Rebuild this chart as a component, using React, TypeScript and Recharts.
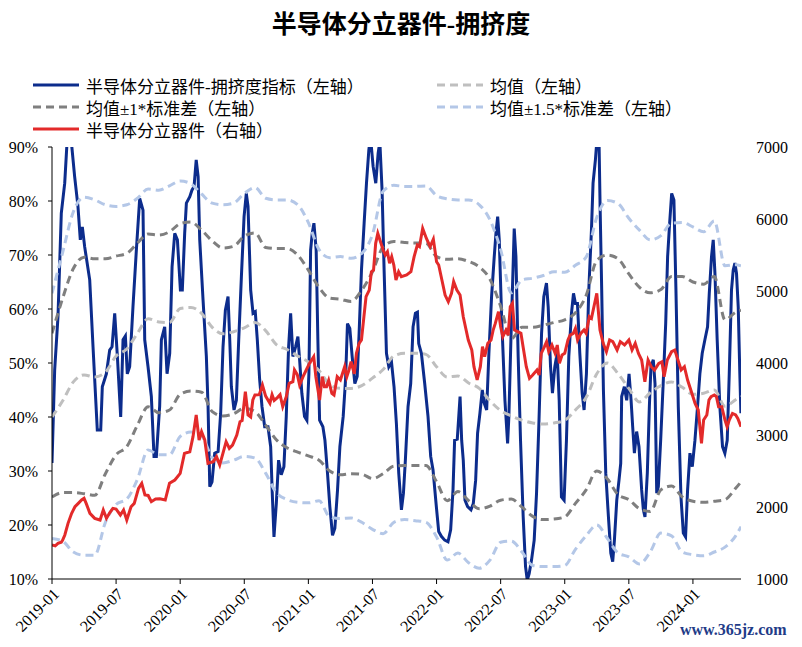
import { Line, LineChart, XAxis, YAxis } from 'recharts'

// months since 2019-01 for the monthly band series (last point = end of data)
const bandMonths = [...Array.from({ length: 65 }, (_, i) => i), 64.5]

const meanLine = [
  40, 43, 46.5, 47.8, 47.4, 48.3, 51.3, 52.6, 55.5, 58.2,
  57.6, 57.5, 60.1, 60.3, 59.2, 56.6, 55.4, 55.8, 56.5, 57.5,
  56, 53.4, 52.5, 51.3, 50.2, 48.6, 46, 45.3, 45.3, 45.8,
  47.2, 48.8, 51.3, 51.8, 51.8, 51.6, 49.3, 47.4, 47.6, 46.3,
  45.3, 43, 41.2, 40.2, 39.4, 38.9, 38.7, 38.9, 39.4, 41.3,
  43.6, 48, 50, 48, 45.3, 42.8, 44.5, 45.8, 46.5, 45.5,
  44.2, 44.4, 45, 42, 43.2, 43.8,
]
const upper1 = [
  55.5, 62, 67.5, 69.6, 69.3, 69.3, 69.8, 70.3, 72.2, 73.9,
  73.7, 74.3, 75.8, 76.1, 74.6, 72.6, 71.3, 71.6, 73.5, 74.1,
  71.4, 71.2, 71.2, 70, 67.2, 64, 62, 61.8, 61.4, 63.5,
  66.9, 71.5, 72.5, 72.3, 72.2, 72.2, 69.7, 69.2, 69.3, 68.8,
  67.8, 65.5, 60.5, 54.5, 56.6, 56.6, 57, 57.5, 58, 59.3,
  62.5, 69, 70, 69.3, 66.5, 64, 63, 63.6, 66, 66,
  65, 64.6, 66, 58, 59.4, 59.8,
]
const lower1 = [
  25.2, 26, 26, 25.8, 25.5, 29.5, 33, 34.5, 38.5, 41.9,
  40.8, 41.3, 44.2, 44.8, 44.6, 41, 40.2, 40.6, 41.6, 41,
  38.5, 35.8, 34.3, 33.5, 32.8, 32, 30, 29.3, 29.5, 29.4,
  28.6, 29.5, 30.9, 31, 31, 31, 28, 24.5, 26.2, 24.5,
  23, 23.5, 24.6, 24.8, 23.3, 21.6, 21, 21.1, 21.5, 24,
  26.5, 30, 28.5, 25.6, 24.7, 23, 22.5, 26.5, 27.2, 25.2,
  24.4, 24.2, 24.4, 24.7, 26.8, 28,
]
const upper15 = [
  62.9, 70.5, 78, 80.7, 80.2, 79.3, 79, 79.3, 80.5, 82.2,
  82, 82.8, 83.7, 83.2, 81.3, 79.6, 79.3, 79.6, 81.4, 82.5,
  80.5, 80.2, 80.2, 79.3, 76, 71, 69.5, 69.7, 69.4, 70.3,
  73.8, 81.8, 82.9, 82.7, 82.7, 82.8, 81, 80.4, 80.2, 80.2,
  79.3, 76.5, 71, 63, 65.4, 65.7, 66.2, 66.9, 66.8, 68.1,
  69.6, 77, 80.1, 79.5, 76.8, 74.6, 72.8, 73.6, 75.9, 76,
  75.2, 74.3, 76.3, 68, 68.2, 68,
]
const lower15 = [
  17.5, 17, 15, 14.4, 14.4, 20.5, 23.8, 24.8, 28.5, 33.9,
  33, 33, 36.4, 37.2, 36.5, 32.5, 31.5, 32, 32.7, 32.4,
  29.6, 26, 24.7, 24.2, 24.1, 24.5, 21.5, 21.2, 21.3, 20.5,
  19.2, 18.4, 20.5, 21, 20.8, 20.5, 17.8, 13.5, 14.8, 13,
  12, 13.5, 16.8, 17, 15, 12.5, 12.3, 12.3, 12.5, 15.5,
  18, 20, 17.5, 14.8, 14.1, 12.8, 15, 18.5, 18, 15,
  14.5, 14.3, 15, 15.9, 18, 19.7,
]

// [months since 2019-01, crowding %] (weekly-ish)
const crowding: [number, number][] = [
  [0, 31.5], [0.25, 48.7], [0.56, 58.6], [0.87, 77.7], [1.19, 83.3], [1.44, 92], [1.62, 93], [1.81, 91],
  [2.12, 84.5], [2.43, 79], [2.65, 72.8], [2.84, 75.2], [3.06, 71.5], [3.53, 65.4], [3.84, 53], [4.24, 37.6],
  [4.56, 37.6], [4.71, 45.6], [5.09, 48], [5.4, 52.4], [5.62, 53], [5.87, 59.2], [6.12, 51.2], [6.43, 40],
  [6.65, 54.3], [6.87, 55], [7.05, 48], [7.27, 49.3], [7.58, 60.4], [7.9, 71], [8.21, 80.5], [8.52, 78.3],
  [8.68, 54.3], [8.99, 49.3], [9.3, 43.8], [9.55, 32.7], [9.77, 32.7], [10.08, 42], [10.24, 54.3], [10.55, 56.7],
  [10.77, 48], [11.02, 51.8], [11.24, 67.8], [11.49, 74], [11.74, 72.8], [12.02, 63.5], [12.2, 63.5], [12.42, 74],
  [12.58, 79.6], [12.9, 80.8], [13.1, 82], [13.3, 82.7], [13.5, 87.6], [13.68, 84.5], [13.83, 72.8], [14.14, 61.7],
  [14.45, 51.2], [14.61, 41.9], [14.77, 27.1], [14.98, 28], [15.23, 33.3], [15.55, 33.6], [15.79, 40.7], [16.01, 53],
  [16.23, 59.8], [16.48, 62.3], [16.64, 54.3], [16.79, 45.6], [17.04, 41.3], [17.26, 43.1], [17.48, 54.3], [17.73, 66],
  [17.98, 77.1], [18.19, 81.4], [18.35, 79], [18.6, 63.5], [18.82, 59.2], [19.03, 59.5], [19.22, 54.3], [19.44, 46.9],
  [19.66, 41.9], [19.91, 38.2], [20.22, 38.2], [20.47, 34.5], [20.62, 25.9], [20.78, 17.8], [21.0, 24], [21.21, 32],
  [21.46, 29.3], [21.71, 30.8], [21.93, 40.1], [22.15, 53], [22.34, 59.2], [22.55, 51.2], [22.8, 53], [23.02, 54.9],
  [23.18, 50.6], [23.39, 44.4], [23.64, 40.1], [23.86, 39.4], [24.05, 48], [24.21, 70.9], [24.36, 74], [24.52, 75.9],
  [24.73, 70.9], [24.89, 54.3], [25.05, 39.4], [25.36, 38.2], [25.55, 35.7], [25.79, 29.6], [26.01, 23.4], [26.26, 18.1],
  [26.48, 19.4], [26.73, 26.5], [26.95, 34.5], [27.26, 40.1], [27.48, 46.9], [27.66, 57.3], [27.88, 56.4], [28.1, 51.2],
  [28.35, 46.2], [28.57, 47.5], [28.75, 55.5], [28.97, 67.2], [29.22, 75.9], [29.44, 83.3], [29.66, 89.4], [29.81, 92],
  [30.06, 86.4], [30.31, 83.3], [30.53, 88.8], [30.69, 91], [30.9, 82], [31.09, 67.2], [31.31, 51.8], [31.53, 49.3],
  [31.78, 50.2], [32.02, 45.6], [32.24, 38.8], [32.46, 29.6], [32.71, 22.8], [32.9, 25.9], [33.08, 32], [33.33, 41.9],
  [33.58, 46.2], [33.8, 56.7], [34.02, 59.2], [34.21, 59.4], [34.33, 53.6], [34.58, 51.8], [34.89, 46.2], [35.2, 40.1],
  [35.45, 32.7], [35.67, 30.2], [35.98, 23.4], [36.2, 18.8], [36.45, 17.9], [36.76, 17.2], [37.07, 16.9], [37.32, 19.1],
  [37.54, 26.5], [37.69, 35.7], [37.94, 35.9], [38.2, 43.8], [38.35, 35.7], [38.5, 32], [38.66, 24.6], [38.91, 23.4],
  [39.22, 22.8], [39.44, 24], [39.66, 28.3], [39.84, 37], [40.06, 40.7], [40.28, 45], [40.47, 42.5], [40.69, 41.3],
  [40.9, 51.8], [41.15, 62.3], [41.4, 69.7], [41.56, 74], [41.72, 77.1], [41.87, 72.8], [42.09, 58.6], [42.4, 43.1],
  [42.65, 35.1], [42.77, 40.1], [42.96, 54.3], [43.12, 64.8], [43.27, 74.9], [43.43, 69.7], [43.64, 51.2], [43.86, 35.7],
  [44.11, 21.5], [44.33, 12.3], [44.49, 9.8], [44.67, 11], [44.89, 13.5], [45.14, 17.2], [45.36, 25.9], [45.58, 38.8],
  [45.83, 55.5], [46.04, 62.3], [46.29, 64.8], [46.45, 60.4], [46.67, 49.3], [46.85, 44.4], [47.07, 49.3], [47.29, 51.8],
  [47.48, 43.1], [47.69, 25.2], [47.94, 24.6], [48.16, 35.7], [48.38, 51.2], [48.63, 59.2], [48.82, 62.9], [49.0, 61],
  [49.19, 61], [49.41, 51.8], [49.63, 44.4], [49.81, 41.3], [50.03, 48], [50.25, 63.5], [50.5, 74.6], [50.65, 83.3],
  [50.87, 87.6], [51.0, 91], [51.21, 91], [51.31, 79], [51.46, 63.5], [51.62, 45], [51.84, 29.6], [52.09, 21.5],
  [52.31, 14.8], [52.49, 13.2], [52.65, 17.2], [52.87, 24.6], [53.08, 28.3], [53.24, 31.4], [53.33, 43.8], [53.58, 45.6],
  [53.8, 43.1], [54.02, 48], [54.21, 43.1], [54.36, 38.2], [54.52, 33.3], [54.73, 37.3], [54.95, 34.5], [55.2, 26.5],
  [55.36, 22.8], [55.51, 21.5], [55.73, 29.6], [55.92, 41.9], [56.07, 49.3], [56.29, 50.6], [56.45, 46.2], [56.61, 25.9],
  [56.76, 27.1], [56.98, 35.7], [57.23, 46.9], [57.45, 57.3], [57.63, 69.7], [57.82, 75.9], [58.01, 81.4], [58.22, 80.2],
  [58.41, 63.5], [58.63, 41.9], [58.88, 25.2], [59.1, 18.5], [59.31, 17.8], [59.5, 26.5], [59.72, 33.3], [59.94, 30.8],
  [60.19, 35.7], [60.43, 41.9], [60.65, 48], [60.87, 51.8], [61.12, 54.3], [61.37, 56.7], [61.53, 62.9], [61.74, 69.7],
  [61.9, 72.8], [62.06, 66.6], [62.27, 54.3], [62.52, 41.9], [62.77, 34.5], [62.99, 33.3], [63.21, 35.7], [63.4, 48],
  [63.61, 63.5], [63.77, 67.2], [63.93, 68.5], [64.08, 66.6], [64.24, 60.4], [64.39, 48], [64.49, 40.7],
]

// [months since 2019-01, sector index level] (right axis)
const sectorIndex: [number, number][] = [
  [0, 1472], [0.3, 1460], [0.56, 1495], [0.87, 1510], [1.0, 1540], [1.2, 1611], [1.5, 1773], [1.84, 1912],
  [2.15, 2004], [2.46, 2050], [2.77, 2097], [3.0, 2120], [3.2, 2050], [3.55, 1912], [4.0, 1842], [4.5, 1819],
  [4.8, 1958], [5.1, 1842], [5.4, 1920], [5.7, 1981], [6.0, 1970], [6.4, 1889], [6.7, 1958], [7.0, 1819],
  [7.4, 2004], [7.7, 2050], [8.1, 2259], [8.4, 2329], [8.7, 2167], [9.0, 2160], [9.3, 2074], [9.7, 2110],
  [10.1, 2115], [10.6, 2097], [11.0, 2329], [11.5, 2375], [12.0, 2467], [12.4, 2745], [12.9, 2768], [13.2, 2977],
  [13.5, 3278], [13.77, 2931], [14.0, 3047], [14.3, 2931], [14.6, 2607], [15.1, 2630], [15.4, 2700], [15.7, 2583],
  [16.0, 2745], [16.3, 2907], [16.6, 2815], [16.9, 2860], [17.3, 3000], [17.6, 3185], [17.8, 3200], [18.1, 3602],
  [18.35, 3278], [18.6, 3250], [18.8, 3486], [19.0, 3556], [19.4, 3560], [19.7, 3694], [20.0, 3540], [20.4, 3440],
  [20.6, 3560], [20.8, 3480], [21.1, 3520], [21.35, 3560], [21.6, 3393], [21.93, 3530], [22.2, 3717], [22.55, 3740],
  [22.7, 3903], [22.96, 3840], [23.18, 3694], [23.5, 3810], [23.8, 3903], [24.1, 3995], [24.5, 4088], [24.7, 3810],
  [25.05, 3486], [25.3, 3810], [25.5, 3671], [25.7, 3671], [25.9, 3760], [26.2, 3579], [26.4, 3556], [26.7, 3810],
  [27.0, 3764], [27.4, 3949], [27.6, 3810], [27.8, 3900], [28.0, 4018], [28.3, 3850], [28.5, 4134], [28.75, 4273],
  [28.97, 4319], [29.2, 4643], [29.4, 4921], [29.7, 5013], [29.9, 5268], [30.1, 5290], [30.3, 5662], [30.5, 5801],
  [30.7, 5708], [31.0, 5569], [31.2, 5500], [31.4, 5545], [31.6, 5384], [31.8, 5477], [32.0, 5361], [32.2, 5153],
  [32.45, 5268], [32.7, 5199], [33.2, 5222], [33.6, 5268], [33.9, 5477], [34.2, 5639], [34.4, 5616], [34.7, 5870],
  [35.05, 5730], [35.4, 5616], [35.7, 5720], [36.0, 5407], [36.2, 5361], [36.5, 5153], [36.8, 4944], [37.1, 4851],
  [37.4, 4967], [37.6, 5130], [37.9, 5013], [38.2, 4944], [38.5, 4643], [38.97, 4319], [39.3, 4180], [39.5, 3949],
  [39.8, 3764], [40.1, 3949], [40.3, 4227], [40.5, 4088], [40.8, 4273], [41.1, 4319], [41.3, 4458], [41.5, 4550],
  [41.8, 4713], [42.0, 4504], [42.2, 4365], [42.5, 4458], [42.7, 4388], [42.9, 4782], [43.1, 4829], [43.3, 4458],
  [43.6, 4435], [43.9, 4412], [44.1, 4227], [44.4, 3949], [44.7, 3787], [45.0, 3833], [45.4, 3903], [45.6, 3833],
  [45.8, 4134], [46.1, 4227], [46.3, 4296], [46.5, 4157], [46.8, 4250], [47.1, 4134], [47.3, 4250], [47.5, 3995],
  [47.75, 4111], [48.0, 4134], [48.3, 4319], [48.5, 4388], [48.8, 4412], [49.0, 4481], [49.2, 4319], [49.5, 4412],
  [49.8, 4458], [50.0, 4412], [50.3, 4643], [50.5, 4620], [50.8, 4829], [51.0, 4967], [51.3, 4458], [51.6, 4273],
  [51.9, 4157], [52.2, 4319], [52.5, 4296], [52.9, 4180], [53.2, 4296], [53.6, 4250], [54.0, 4319], [54.3, 4180],
  [54.6, 4273], [54.9, 4134], [55.2, 4041], [55.5, 3740], [55.8, 4041], [56.1, 3949], [56.4, 3903], [56.8, 3995],
  [57.1, 4018], [57.3, 3810], [57.6, 4041], [58.0, 4157], [58.3, 4180], [58.6, 4041], [58.9, 3903], [59.2, 3949],
  [59.5, 3764], [59.9, 3579], [60.2, 3440], [60.5, 3347], [60.8, 2884], [61.0, 3208], [61.3, 3278], [61.5, 3486],
  [61.7, 3532], [62.0, 3556], [62.2, 3532], [62.4, 3393], [62.7, 3393], [63.0, 3208], [63.2, 3115], [63.4, 3208],
  [63.7, 3300], [64.0, 3278], [64.2, 3231], [64.5, 3115],
]

const xTicks = [0, 6, 12, 18, 24, 30, 36, 42, 48, 54, 60]
const leftTicks = [10, 20, 30, 40, 50, 60, 70, 80, 90]
const rightTicks = [1000, 2000, 3000, 4000, 5000, 6000, 7000]

const SERIF = '"Liberation Serif", "Times New Roman", "Noto Sans CJK SC", serif'
const BLUE = '#0c2c8c'
const RED = '#e32a2a'
const DARK_GRAY = '#7f7f7f'
const LIGHT_GRAY = '#bfbfbf'
const LIGHT_BLUE = '#b4c7e7'
const DASH = '8 5'

const monthLabel = (m: number) =>
  `${2019 + Math.floor(m / 12)}-${String((m % 12) + 1).padStart(2, '0')}`

const bandPoints = (vals: number[]) => vals.map((v, i) => ({ t: bandMonths[i], v }))
const pairPoints = (pairs: [number, number][]) => pairs.map(([t, v]) => ({ t, v }))

const legendItems = [
  { label: '半导体分立器件-拥挤度指标（左轴）', color: BLUE, dashed: false, x: 33, y: 85 },
  { label: '均值（左轴）', color: LIGHT_GRAY, dashed: true, x: 437, y: 85 },
  { label: '均值±1*标准差（左轴）', color: DARK_GRAY, dashed: true, x: 33, y: 107 },
  { label: '均值±1.5*标准差（左轴）', color: LIGHT_BLUE, dashed: true, x: 437, y: 107 },
  { label: '半导体分立器件（右轴）', color: RED, dashed: false, x: 33, y: 129 },
]

export default function App() {
  const tickStyle = { fontSize: 16, fill: '#000', fontFamily: SERIF }

  const bands = [
    { key: 'mean', data: bandPoints(meanLine), color: LIGHT_GRAY },
    { key: 'up1', data: bandPoints(upper1), color: DARK_GRAY },
    { key: 'lo1', data: bandPoints(lower1), color: DARK_GRAY },
    { key: 'up15', data: bandPoints(upper15), color: LIGHT_BLUE },
    { key: 'lo15', data: bandPoints(lower15), color: LIGHT_BLUE },
  ]

  return (
    <div
      style={{
        position: 'absolute',
        left: 0,
        top: 0,
        width: 802,
        height: 647,
        background: '#fff',
        fontFamily: SERIF,
      }}
    >
      <div
        style={{
          position: 'absolute',
          top: 4,
          left: 0,
          width: 802,
          textAlign: 'center',
          fontSize: 25,
          fontWeight: 'bold',
          color: '#000',
        }}
      >
        半导体分立器件-拥挤度
      </div>

      {legendItems.map((item) => (
        <div
          key={item.label}
          style={{
            position: 'absolute',
            left: item.x,
            top: item.y - 12,
            height: 24,
            display: 'flex',
            alignItems: 'center',
            fontSize: 17,
            color: '#000',
            whiteSpace: 'nowrap',
          }}
        >
          <svg width={46} height={6} style={{ marginRight: 7 }}>
            <line
              x1={0}
              y1={3}
              x2={46}
              y2={3}
              stroke={item.color}
              strokeWidth={3}
              strokeDasharray={item.dashed ? DASH : undefined}
            />
          </svg>
          {item.label}
        </div>
      ))}

      <LineChart width={802} height={647} margin={{ top: 147, right: 6, bottom: 8, left: 7 }}>
        <XAxis
          type="number"
          dataKey="t"
          domain={[0, 64.5]}
          ticks={xTicks}
          tickFormatter={monthLabel}
          allowDataOverflow
          height={60}
          angle={-45}
          textAnchor="end"
          tickSize={5}
          tickMargin={3}
          interval={0}
          stroke="#000"
          tick={tickStyle}
        />
        <YAxis
          yAxisId="left"
          type="number"
          domain={[10, 90]}
          ticks={leftTicks}
          tickFormatter={(v) => `${v}%`}
          allowDataOverflow
          width={45}
          tickSize={4}
          tickMargin={10}
          interval={0}
          stroke="#000"
          tick={tickStyle}
        />
        <YAxis
          yAxisId="right"
          orientation="right"
          type="number"
          domain={[1000, 7000]}
          ticks={rightTicks}
          allowDataOverflow
          width={55}
          axisLine={false}
          tickLine={false}
          tickSize={6}
          tickMargin={9}
          interval={0}
          tick={tickStyle}
        />

        <Line
          yAxisId="left"
          data={pairPoints(crowding)}
          dataKey="v"
          type="linear"
          stroke={BLUE}
          strokeWidth={3}
          dot={false}
          isAnimationActive={false}
        />
        {bands.map((band) => (
          <Line
            key={band.key}
            yAxisId="left"
            data={band.data}
            dataKey="v"
            type="monotone"
            stroke={band.color}
            strokeWidth={3}
            strokeDasharray={DASH}
            dot={false}
            isAnimationActive={false}
          />
        ))}
        <Line
          yAxisId="right"
          data={pairPoints(sectorIndex)}
          dataKey="v"
          type="linear"
          stroke={RED}
          strokeWidth={3}
          dot={false}
          isAnimationActive={false}
        />
      </LineChart>

      <div
        style={{
          position: 'absolute',
          left: 680,
          top: 621,
          fontSize: 16,
          fontWeight: 'bold',
          color: '#1f3c88',
        }}
      >
        www.365jz.com
      </div>
    </div>
  )
}
